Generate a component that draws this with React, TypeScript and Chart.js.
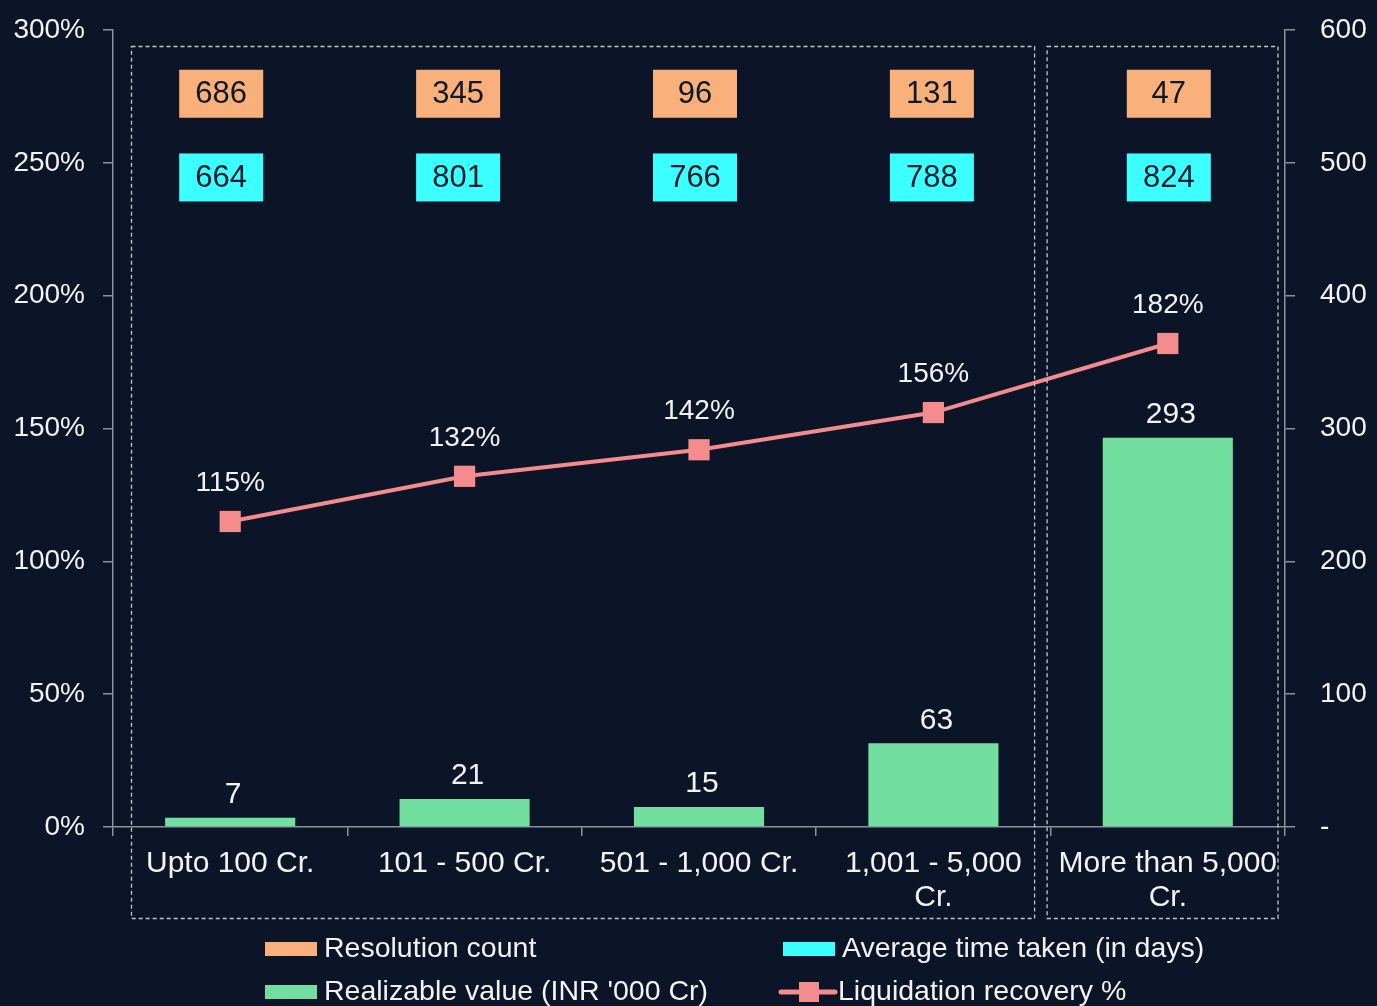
import React, { useEffect, useRef } from "react";
import { Chart, registerables } from "chart.js";
Chart.register(...registerables);

const categories: string[][] = [
  ["Upto 100 Cr."],
  ["101 - 500 Cr."],
  ["501 - 1,000 Cr."],
  ["1,001 - 5,000", "Cr."],
  ["More than 5,000", "Cr."],
];
const realizableValue = [7, 21, 15, 63, 293];
const recoveryPct = [115, 132, 142, 156, 182];
const resolutionCount = [686, 345, 96, 131, 47];
const avgDays = [664, 801, 766, 788, 824];

const legendLabels = [
  "Resolution count",
  "Average time taken (in days)",
  "Realizable value (INR '000 Cr)",
  "Liquidation recovery %",
];

const BG = "#0b1527";
const ORANGE = "#f9b07b";
const CYAN = "#3cffff";
const GREEN = "#72dfa0";
const SALMON = "#f48b8d";
const AXIS = "#8c929c";
const TEXT = "#f2f3f5";
const DASH = "#c2c6cd";
const FONT = "'Liberation Sans', Arial, sans-serif";

const W = 1377;
const H = 1006;

const overlay = {
  id: "overlay",
  beforeDraw(chart: any) {
    const ctx = chart.ctx;
    ctx.save();
    ctx.fillStyle = BG;
    ctx.fillRect(0, 0, chart.width, chart.height);
    ctx.restore();
  },
  afterDatasetsDraw(chart: any) {
    const ctx = chart.ctx;
    ctx.save();
    ctx.fillStyle = TEXT;
    ctx.textAlign = "center";
    ctx.textBaseline = "middle";
    ctx.font = `30px ${FONT}`;
    const barMeta = chart.getDatasetMeta(1);
    barMeta.data.forEach((el: any, i: number) => {
      ctx.fillText(String(realizableValue[i]), el.x + 3, el.y - 23);
    });
    ctx.font = `28px ${FONT}`;
    const lineMeta = chart.getDatasetMeta(0);
    lineMeta.data.forEach((el: any, i: number) => {
      ctx.fillText(recoveryPct[i] + "%", el.x, el.y - 38);
    });
    ctx.restore();
  },
  afterDraw(chart: any) {
    const ctx = chart.ctx;
    const xs = chart.scales.x;
    const ys = chart.scales.y;
    const area = chart.chartArea;
    ctx.save();
    // value boxes
    const bw = 84;
    const bh = 48;
    ctx.font = `31px ${FONT}`;
    ctx.textAlign = "center";
    ctx.textBaseline = "middle";
    categories.forEach((_, i) => {
      const cx = xs.getPixelForValue(i) - 9 + 2.5 * i;
      const oy = ys.getPixelForValue(276);
      const cy = ys.getPixelForValue(244.5);
      ctx.fillStyle = ORANGE;
      ctx.fillRect(cx - bw / 2, oy - bh / 2, bw, bh);
      ctx.fillStyle = CYAN;
      ctx.fillRect(cx - bw / 2, cy - bh / 2, bw, bh);
      ctx.fillStyle = "#0d1a2a";
      ctx.fillText(String(resolutionCount[i]), cx, oy + 1);
      ctx.fillText(String(avgDays[i]), cx, cy + 1);
    });
    // dashed group rectangles
    const boundary = (xs.getPixelForValue(3) + xs.getPixelForValue(4)) / 2;
    const top = area.top + 16;
    const bottom = area.bottom + 91;
    ctx.strokeStyle = DASH;
    ctx.lineWidth = 1.3;
    ctx.setLineDash([4, 3]);
    ctx.strokeRect(area.left + 18.5, top + 0.5, boundary - 16 - (area.left + 18.5), bottom - top);
    ctx.strokeRect(boundary - 3.5, top + 0.5, area.right - 7 - (boundary - 3.5), bottom - top);
    ctx.setLineDash([]);
    // legend
    const rows = [H - 57, H - 14];
    const cols = [265, 783];
    ctx.textAlign = "left";
    ctx.font = `28.5px ${FONT}`;
    const sw = 52;
    const items = [
      { c: 0, r: 0, color: ORANGE, type: "box" },
      { c: 1, r: 0, color: CYAN, type: "box" },
      { c: 0, r: 1, color: GREEN, type: "box" },
      { c: 1, r: 1, color: SALMON, type: "line" },
    ];
    items.forEach((it, k) => {
      const x = cols[it.c];
      const y = rows[it.r];
      ctx.fillStyle = it.color;
      if (it.type === "box") {
        ctx.fillRect(x, y - 7, sw, 14);
        ctx.fillStyle = TEXT;
        ctx.fillText(legendLabels[k], x + sw + 7, y);
      } else {
        ctx.strokeStyle = it.color;
        ctx.lineWidth = 5;
        ctx.lineCap = "round";
        ctx.beginPath();
        ctx.moveTo(x - 2, y);
        ctx.lineTo(x + sw, y);
        ctx.stroke();
        ctx.fillRect(x + sw / 2 - 10, y - 10, 20, 20);
        ctx.fillStyle = TEXT;
        ctx.fillText(legendLabels[k], x + sw + 3, y);
      }
    });
    ctx.restore();
  },
};

export default function App() {
  const ref = useRef<HTMLCanvasElement | null>(null);
  useEffect(() => {
    document.body.style.margin = "0";
    document.body.style.background = BG;
    const canvas = ref.current;
    if (!canvas) return;
    const chart = new Chart(canvas, {
      type: "bar",
      data: {
        labels: categories as any,
        datasets: [
          {
            type: "line",
            label: legendLabels[3],
            data: recoveryPct,
            yAxisID: "y",
            borderColor: SALMON,
            backgroundColor: SALMON,
            borderWidth: 4,
            pointStyle: "rect",
            pointRadius: 15,
            pointBorderWidth: 0,
            pointBackgroundColor: SALMON,
            order: 0,
          } as any,
          {
            type: "bar",
            label: legendLabels[2],
            data: realizableValue,
            yAxisID: "y1",
            backgroundColor: GREEN,
            borderWidth: 0,
            categoryPercentage: 1,
            barPercentage: 0.555,
            order: 1,
          },
        ],
      },
      options: {
        responsive: false,
        animation: false,
        devicePixelRatio: 1,
        layout: { padding: { top: 30, left: 0, right: 0, bottom: 0 } },
        plugins: {
          legend: { display: false },
          tooltip: { enabled: false },
        },
        scales: {
          x: {
            offset: true,
            grid: {
              offset: true,
              drawOnChartArea: false,
              drawTicks: true,
              tickLength: 9,
              color: AXIS,
              lineWidth: 1.5,
            },
            border: { color: AXIS, width: 1.5 },
            ticks: {
              color: TEXT,
              font: { family: FONT, size: 30, lineHeight: "34px" },
              padding: 11,
              maxRotation: 0,
              autoSkip: false,
            },
            afterFit(scale: any) {
              scale.height = H - 827;
            },
          },
          y: {
            position: "left",
            min: 0,
            max: 300,
            ticks: {
              stepSize: 50,
              color: TEXT,
              font: { family: FONT, size: 28 },
              padding: 18,
              callback: (v: any) => v + "%",
            },
            grid: {
              drawOnChartArea: false,
              drawTicks: true,
              tickLength: 10,
              color: AXIS,
              lineWidth: 1.5,
            },
            border: { color: AXIS, width: 1.5 },
            afterFit(scale: any) {
              scale.width = 113;
              scale.paddingTop = 0;
              scale.paddingBottom = 0;
            },
          },
          y1: {
            position: "right",
            min: 0,
            max: 600,
            ticks: {
              stepSize: 100,
              color: TEXT,
              font: { family: FONT, size: 28 },
              padding: 25,
              callback: (v: any) => (v === 0 ? "-" : String(v)),
            },
            grid: {
              drawOnChartArea: false,
              drawTicks: true,
              tickLength: 10,
              color: AXIS,
              lineWidth: 1.5,
            },
            border: { color: AXIS, width: 1.5 },
            afterFit(scale: any) {
              scale.width = W - 1285;
              scale.paddingTop = 0;
              scale.paddingBottom = 0;
            },
          },
        },
      },
      plugins: [overlay],
    });
    return () => chart.destroy();
  }, []);
  return (
    <div style={{ width: W, height: H, background: BG }}>
      <canvas ref={ref} width={W} height={H} style={{ display: "block" }} />
    </div>
  );
}
